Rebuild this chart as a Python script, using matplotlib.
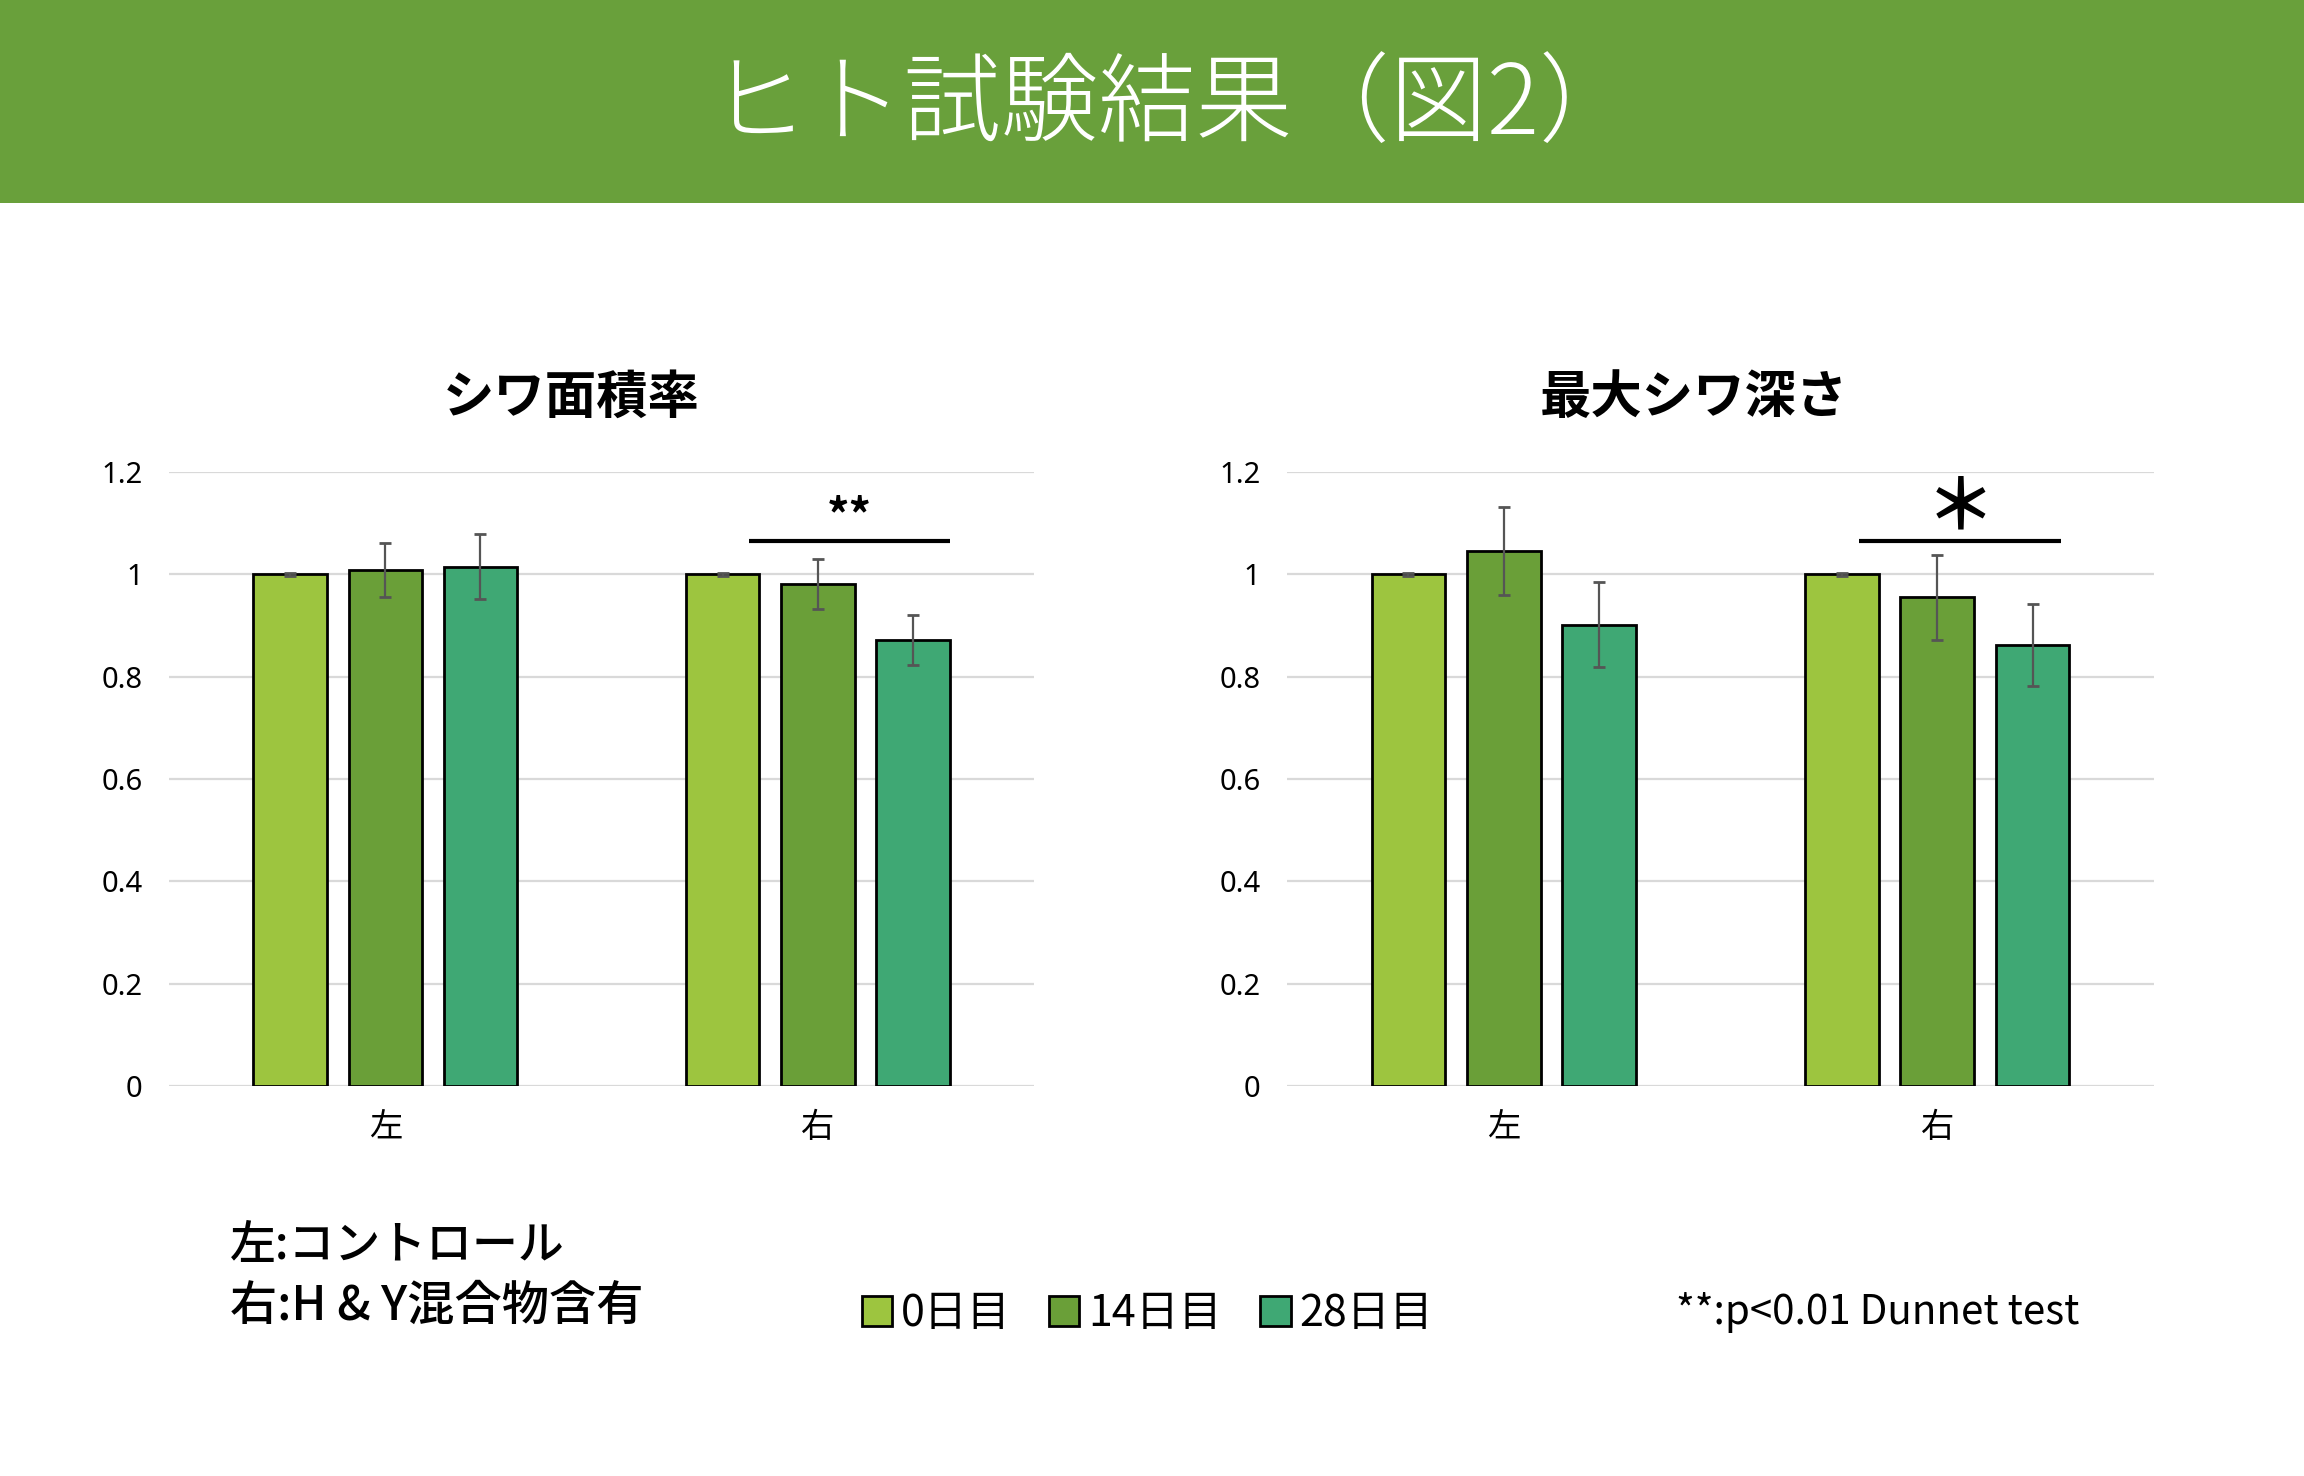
import numpy as np
import matplotlib
matplotlib.use("Agg")
import matplotlib.pyplot as plt
from matplotlib.patches import Patch, Rectangle

plt.rcParams['font.family'] = ['Noto Sans CJK JP', 'DejaVu Sans']

# データ
groups = ['左', '右']
days = ['0日目', '14日目', '28日目']
colors = ['#9dc53f', '#6a9f38', '#3fa874']

area_day0 = [1.000, 1.000]
area_day0_err = [0.003, 0.003]
area_day14 = [1.008, 0.981]
area_day14_err = [0.053, 0.049]
area_day28 = [1.015, 0.872]
area_day28_err = [0.063, 0.049]

depth_day0 = [1.000, 1.000]
depth_day0_err = [0.003, 0.003]
depth_day14 = [1.046, 0.955]
depth_day14_err = [0.086, 0.083]
depth_day28 = [0.902, 0.862]
depth_day28_err = [0.084, 0.080]

yticks = [0, 0.2, 0.4, 0.6, 0.8, 1.0, 1.2]
ytick_labels = ['0', '0.2', '0.4', '0.6', '0.8', '1', '1.2']

panels = [
    ('シワ面積率', [area_day0, area_day14, area_day28],
     [area_day0_err, area_day14_err, area_day28_err], '**'),
    ('最大シワ深さ', [depth_day0, depth_day14, depth_day28],
     [depth_day0_err, depth_day14_err, depth_day28_err], '＊'),
]

fig = plt.figure(figsize=(23.04, 14.76), dpi=100)
fig.patch.set_facecolor('white')

# ヘッダー帯
fig.patches.append(Rectangle((0, 0.8625), 1, 0.1375, transform=fig.transFigure,
                             facecolor='#69a03b', edgecolor='none', zorder=0))
fig.text(0.509, 0.928, 'ヒト試験結果（図2）', color='white', fontsize=70,
         fontweight='light', ha='center', va='center')

ax_pos = [[0.0734, 0.2642, 0.3754, 0.416], [0.5586, 0.2642, 0.3763, 0.416]]
title_x = [0.248, 0.735]
offsets = [-0.22, 0.0, 0.22]
width = 0.17
x = np.arange(len(groups))

for k, (title, means, errs, mark) in enumerate(panels):
    ax = fig.add_axes(ax_pos[k])
    for i in range(3):
        ax.bar(x + offsets[i], means[i], width, color=colors[i],
               edgecolor='black', linewidth=2, zorder=3)
        ax.errorbar(x + offsets[i], means[i], yerr=errs[i], fmt='none',
                    ecolor='#555555', elinewidth=1.6, capsize=4.5,
                    capthick=2, zorder=4)
    ax.set_xlim(-0.5, 1.5)
    ax.set_ylim(0, 1.2)
    ax.set_yticks(yticks)
    ax.set_yticklabels(ytick_labels, fontsize=21, family=['Noto Sans', 'DejaVu Sans'])
    ax.set_xticks(x)
    ax.set_xticklabels(groups, fontsize=24)
    ax.tick_params(axis='y', length=0, pad=19)
    ax.tick_params(axis='x', length=0, pad=17)
    ax.grid(axis='y', color='#d9d9d9', linewidth=1.6, zorder=0)
    ax.set_axisbelow(True)
    for s in ax.spines.values():
        s.set_visible(False)

    # 有意差ライン
    x0 = x[1] + offsets[0] + 0.06 - 0.02 * k
    x1 = x[1] + offsets[2] + width / 2 - 0.02 * k
    ax.plot([x0, x1], [1.065, 1.065], color='black', linewidth=3,
            solid_capstyle='butt', zorder=5, clip_on=False)
    if mark == '**':
        ax.text((x0 + x1) / 2, 1.112, mark, ha='center', va='center',
                fontsize=32, fontweight='bold')
    else:
        ax.text((x0 + x1) / 2, 1.13, mark, ha='center', va='center',
                fontsize=50, fontweight='bold')

    fig.text(title_x[k], 0.731, title, ha='center', va='center',
             fontsize=37, fontweight='bold')

# 注記
fig.text(0.1, 0.156, '左:コントロール', fontsize=33, fontweight='medium',
         ha='left', va='center')
fig.text(0.1, 0.115, '右:H & Y混合物含有', fontsize=34, fontweight='medium',
         ha='left', va='center')

handles = [Patch(facecolor=c, edgecolor='black', linewidth=2) for c in colors]
fig.legend(handles, days, loc='center', bbox_to_anchor=(0.498, 0.11),
           ncol=3, frameon=False, fontsize=31, handlelength=0.7,
           handleheight=0.7, handletextpad=0.2, columnspacing=0.9)

fig.text(0.8148, 0.111, '**:p<0.01 Dunnet test', fontsize=29,
         ha='center', va='center')

fig.savefig('out.png', dpi=100, facecolor='white')
